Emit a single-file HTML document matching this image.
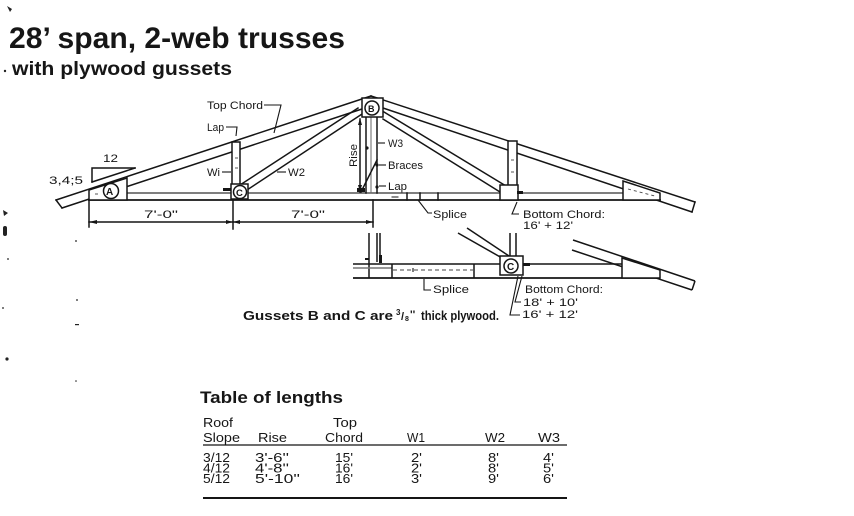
<!DOCTYPE html>
<html><head><meta charset="utf-8"><style>
html,body{margin:0;padding:0;background:#fff;}
svg{display:block;}
text{font-family:"Liberation Sans",Arial,sans-serif;fill:#161616;}
</style></head><body>
<svg width="854" height="516" viewBox="0 0 854 516" xmlns="http://www.w3.org/2000/svg">
<rect width="854" height="516" fill="#fff"/>

<!-- stray marks -->
<g fill="#222">
<path d="M7 6 L12 9 L10 12 Z"/>
<circle cx="5" cy="71" r="1.2"/>
<path d="M3 210 L8 213 L4 216 Z"/>
<rect x="3" y="226" width="4" height="10" rx="2"/>
<circle cx="8" cy="259" r="0.9"/>
<circle cx="76" cy="241" r="0.9"/>
<circle cx="77" cy="300" r="0.9"/>
<rect x="75" y="324" width="4" height="1.2"/>
<circle cx="3" cy="308" r="0.9"/>
<circle cx="7" cy="359" r="1.6"/>
<circle cx="76" cy="381" r="0.8"/>
</g>

<!-- titles -->
<text x="9" y="48" font-size="30" font-weight="bold" textLength="336" lengthAdjust="spacingAndGlyphs">28’ span, 2-web trusses</text>
<text x="12" y="75" font-size="19" font-weight="bold" textLength="220" lengthAdjust="spacingAndGlyphs">with plywood gussets</text>

<!-- ============ MAIN TRUSS ============ -->
<g stroke="#151515" stroke-width="1.5" fill="none" stroke-linecap="square">
  <line x1="56" y1="200" x2="371" y2="96"/>
  <line x1="62" y1="208" x2="362" y2="109"/>
  <line x1="56" y1="200" x2="62" y2="208"/>
  <line x1="371" y1="96" x2="695" y2="202"/>
  <line x1="383" y1="108" x2="692" y2="212"/>
  <line x1="695" y1="202" x2="692" y2="212"/>
  <line x1="89" y1="200" x2="660" y2="200" stroke-width="1.8"/>
  <line x1="127" y1="193" x2="623" y2="193" stroke="#555"/>
  <line x1="240" y1="185" x2="358" y2="108"/>
  <line x1="247" y1="190" x2="362" y2="114"/>
  <line x1="384" y1="112" x2="506" y2="186"/>
  <line x1="383" y1="119" x2="500" y2="192"/>
  <line x1="366" y1="117" x2="366" y2="193"/>
  <line x1="371" y1="117" x2="371" y2="193" stroke="#666" stroke-width="1"/>
  <line x1="377" y1="117" x2="377" y2="193"/>
  <line x1="361" y1="192" x2="377" y2="160"/>
  <line x1="360" y1="119" x2="360" y2="192"/>
  <line x1="407" y1="193" x2="407" y2="200"/>
  <line x1="420" y1="193" x2="420" y2="200"/>
  <line x1="438" y1="193" x2="438" y2="200"/>
  <line x1="392" y1="197" x2="398" y2="197" stroke-width="1"/>
  <polyline points="92,182 92,168 135,168"/>
  <line x1="92" y1="182" x2="135" y2="168"/>
  <line x1="89" y1="222" x2="373" y2="222"/>
  <line x1="89" y1="200" x2="89" y2="227"/>
  <line x1="233" y1="200" x2="233" y2="229"/>
  <line x1="373" y1="200" x2="373" y2="227"/>
</g>

<g stroke="#151515" stroke-width="1.5" fill="#fff">
  <rect x="232" y="142" width="8" height="43"/>
  <rect x="508" y="141" width="9" height="45"/>
  <polygon points="89,190 127,178 127,200 89,200"/>
  <polygon points="623,181 660,193 660,200 623,200"/>
  <rect x="231" y="184" width="17" height="15"/>
  <rect x="500" y="185" width="18" height="15"/>
  <rect x="362" y="98" width="21" height="19"/>
  <circle cx="111" cy="191" r="7.5"/>
  <circle cx="240" cy="192" r="6.5"/>
  <circle cx="372" cy="108" r="7"/>
</g>
<g stroke="#444" stroke-width="0.9" fill="none" stroke-dasharray="3,3">
  <line x1="235" y1="158" x2="238" y2="158"/>
  <line x1="235" y1="168" x2="238" y2="168"/>
  <line x1="511" y1="160" x2="515" y2="160"/>
  <line x1="511" y1="172" x2="515" y2="172"/>
  <line x1="628" y1="189" x2="655" y2="196"/>
  <line x1="95" y1="194" x2="100" y2="194"/>
</g>
<g fill="#151515">
  <rect x="517" y="191" width="6" height="3"/>
  <rect x="223" y="188" width="8" height="3"/>
  <rect x="357" y="188" width="8" height="4"/>
  <polygon points="89,222 97,220 97,224"/>
  <polygon points="233,222 226,220 226,224"/>
  <polygon points="233,222 240,220 240,224"/>
  <polygon points="373,222 366,220 366,224"/>
  <polygon points="360,118 358,125 362,125"/>
  <polygon points="360,192 358,185 362,185"/>
  <circle cx="367" cy="148" r="1.6"/>
  <circle cx="377" cy="165" r="1.6"/>
  <circle cx="377" cy="187" r="1.6"/>
</g>
<text x="106" y="195" font-size="10" font-weight="bold">A</text>
<text x="236" y="196" font-size="9.5" font-weight="bold">C</text>
<text x="368" y="112" font-size="9" font-weight="bold">B</text>

<g stroke="#151515" stroke-width="1.1" fill="none">
  <polyline points="264,105 281,105 274,133"/>
  <polyline points="226,127 237,127 236,136"/>
  <line x1="222" y1="172" x2="231" y2="172"/>
  <line x1="277" y1="172" x2="286" y2="172"/>
  <line x1="378" y1="143" x2="385" y2="143"/>
  <line x1="379" y1="165" x2="386" y2="165"/>
  <line x1="379" y1="186" x2="386" y2="186"/>
  <polyline points="418,200 428,213 432,213"/>
  <polyline points="517,202 512,214 519,214"/>
</g>

<g font-size="11">
<text x="207" y="109" textLength="56" lengthAdjust="spacingAndGlyphs">Top Chord</text>
<text x="207" y="131" textLength="17" lengthAdjust="spacingAndGlyphs">Lap</text>
<text x="207" y="176" textLength="13" lengthAdjust="spacingAndGlyphs">Wi</text>
<text x="288" y="176" textLength="17" lengthAdjust="spacingAndGlyphs">W2</text>
<text x="103" y="162" textLength="15" lengthAdjust="spacingAndGlyphs">12</text>
<text x="49" y="184" textLength="34" lengthAdjust="spacingAndGlyphs">3,4;5</text>
<text x="144" y="218" textLength="34" lengthAdjust="spacingAndGlyphs">7'-0"</text>
<text x="291" y="218" textLength="34" lengthAdjust="spacingAndGlyphs">7'-0"</text>
<text transform="translate(357,167) rotate(-90)" textLength="23" lengthAdjust="spacingAndGlyphs">Rise</text>
<text x="388" y="147" textLength="15" lengthAdjust="spacingAndGlyphs">W3</text>
<text x="388" y="169" textLength="35" lengthAdjust="spacingAndGlyphs">Braces</text>
<text x="388" y="190" textLength="19" lengthAdjust="spacingAndGlyphs">Lap</text>
<text x="433" y="218" textLength="34" lengthAdjust="spacingAndGlyphs">Splice</text>
<text x="523" y="218" textLength="82" lengthAdjust="spacingAndGlyphs">Bottom Chord:</text>
<text x="523" y="229" textLength="50" lengthAdjust="spacingAndGlyphs">16' + 12'</text>
</g>

<!-- ============ LOWER DETAIL ============ -->
<g stroke="#151515" stroke-width="1.5" fill="none">
  <line x1="369" y1="233" x2="369" y2="278"/>
  <line x1="377" y1="233" x2="377" y2="262"/>
  <line x1="380" y1="233" x2="380" y2="262"/>
  <line x1="353" y1="264" x2="623" y2="264"/>
  <line x1="353" y1="268" x2="392" y2="268" stroke="#777"/>
  <line x1="353" y1="278" x2="660" y2="278" stroke-width="1.7"/>
  <line x1="392" y1="264" x2="392" y2="278"/>
  <line x1="474" y1="264" x2="474" y2="278"/>
  <line x1="458" y1="233" x2="502" y2="258"/>
  <line x1="467" y1="228" x2="509" y2="256"/>
  <line x1="510" y1="233" x2="510" y2="256"/>
  <line x1="516" y1="233" x2="516" y2="256"/>
  <line x1="573" y1="240" x2="695" y2="281"/>
  <line x1="572" y1="250" x2="692" y2="290"/>
  <line x1="695" y1="281" x2="692" y2="290"/>
</g>
<g stroke="#444" stroke-width="0.9" fill="none" stroke-dasharray="4,3">
  <line x1="393" y1="270" x2="473" y2="270"/>
  <line x1="626" y1="263" x2="656" y2="276"/>
</g>
<g stroke="#151515" stroke-width="1.5" fill="#fff">
  <polygon points="622,258 660,270 660,278 622,278"/>
  <rect x="500" y="256" width="23" height="19"/>
  <circle cx="511" cy="266" r="7"/>
</g>
<text x="507" y="270" font-size="10" font-weight="bold">C</text>
<g fill="#151515">
  <rect x="523" y="263" width="7" height="3"/>
  <rect x="379" y="255" width="3" height="8"/>
  <rect x="365" y="258" width="4" height="2"/>
</g>
<g stroke="#151515" stroke-width="1.1" fill="none">
  <polyline points="424,279 424,290 431,290"/>
  <polyline points="522,276 515,302 521,302"/>
  <polyline points="518,276 510,315 520,315"/>
  <line x1="413" y1="268" x2="413" y2="272"/>
</g>
<g font-size="11">
<text x="433" y="293" textLength="36" lengthAdjust="spacingAndGlyphs">Splice</text>
<text x="525" y="293" textLength="78" lengthAdjust="spacingAndGlyphs">Bottom Chord:</text>
<text x="523" y="306" textLength="55" lengthAdjust="spacingAndGlyphs">18' + 10'</text>
<text x="522" y="318" textLength="56" lengthAdjust="spacingAndGlyphs">16' + 12'</text>
</g>

<g font-weight="bold">
<text x="243" y="320" font-size="13" textLength="150" lengthAdjust="spacingAndGlyphs">Gussets B and C are</text>
<text x="396" y="315" font-size="8">3</text>
<text x="401" y="320" font-size="11">/</text>
<text x="405" y="321" font-size="7">8</text>
<text x="410" y="318" font-size="11">''</text>
<text x="421" y="320" font-size="13" textLength="78" lengthAdjust="spacingAndGlyphs">thick plywood.</text>
</g>

<!-- ============ TABLE ============ -->
<text x="200" y="403" font-size="16.5" font-weight="bold" textLength="143" lengthAdjust="spacingAndGlyphs">Table of lengths</text>
<g font-size="13">
<text x="203" y="427" textLength="30" lengthAdjust="spacingAndGlyphs">Roof</text>
<text x="333" y="427" textLength="24" lengthAdjust="spacingAndGlyphs">Top</text>
<text x="203" y="442" textLength="37" lengthAdjust="spacingAndGlyphs">Slope</text>
<text x="258" y="442" textLength="29" lengthAdjust="spacingAndGlyphs">Rise</text>
<text x="325" y="442" textLength="38" lengthAdjust="spacingAndGlyphs">Chord</text>
<text x="407" y="442" textLength="18" lengthAdjust="spacingAndGlyphs">W1</text>
<text x="485" y="442" textLength="20" lengthAdjust="spacingAndGlyphs">W2</text>
<text x="538" y="442" textLength="22" lengthAdjust="spacingAndGlyphs">W3</text>

<text x="203" y="462" textLength="27" lengthAdjust="spacingAndGlyphs">3/12</text>
<text x="255" y="462" textLength="34" lengthAdjust="spacingAndGlyphs">3'-6''</text>
<text x="335" y="462" textLength="18" lengthAdjust="spacingAndGlyphs">15'</text>
<text x="411" y="462" textLength="11" lengthAdjust="spacingAndGlyphs">2'</text>
<text x="488" y="462" textLength="11" lengthAdjust="spacingAndGlyphs">8'</text>
<text x="543" y="462" textLength="11" lengthAdjust="spacingAndGlyphs">4'</text>

<text x="203" y="472.5" textLength="27" lengthAdjust="spacingAndGlyphs">4/12</text>
<text x="255" y="472.5" textLength="34" lengthAdjust="spacingAndGlyphs">4'-8''</text>
<text x="335" y="472.5" textLength="18" lengthAdjust="spacingAndGlyphs">16'</text>
<text x="411" y="472.5" textLength="11" lengthAdjust="spacingAndGlyphs">2'</text>
<text x="488" y="472.5" textLength="11" lengthAdjust="spacingAndGlyphs">8'</text>
<text x="543" y="472.5" textLength="11" lengthAdjust="spacingAndGlyphs">5'</text>

<text x="203" y="483" textLength="27" lengthAdjust="spacingAndGlyphs">5/12</text>
<text x="255" y="483" textLength="45" lengthAdjust="spacingAndGlyphs">5'-10''</text>
<text x="335" y="483" textLength="18" lengthAdjust="spacingAndGlyphs">16'</text>
<text x="411" y="483" textLength="11" lengthAdjust="spacingAndGlyphs">3'</text>
<text x="488" y="483" textLength="11" lengthAdjust="spacingAndGlyphs">9'</text>
<text x="543" y="483" textLength="11" lengthAdjust="spacingAndGlyphs">6'</text>
</g>
<line x1="203" y1="445" x2="567" y2="445" stroke="#151515" stroke-width="1.3"/>
<line x1="203" y1="498" x2="567" y2="498" stroke="#151515" stroke-width="2"/>
</svg>
</body></html>
